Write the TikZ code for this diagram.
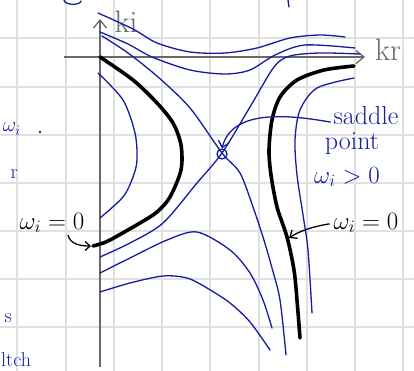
\documentclass[tikz,border=0pt]{standalone}
\usepackage{fontspec}
\usetikzlibrary{arrows.meta}
\definecolor{hblue}{RGB}{20,28,160}
\definecolor{axisgray}{RGB}{105,105,105}
\definecolor{gridgray}{RGB}{224,224,224}
\begin{document}
\begin{tikzpicture}[x=1pt,y=-1pt,
  bluecurve/.style={hblue,line width=1.3pt,line cap=round,line join=round},
  blackcurve/.style={black,line width=3.6pt,line cap=round,line join=round},
  axisline/.style={axisgray,line width=1.4pt},
  gridline/.style={gridgray,line width=1.6pt},
  lbl/.style={font=\fontsize{23}{23}\selectfont,inner sep=0pt},
  txtlbl/.style={font=\fontsize{26}{26}\selectfont,inner sep=0pt,text=hblue},
  axlbl/.style={font=\fontsize{31}{31}\selectfont,inner sep=0pt,text=axisgray},
  frag/.style={font=\fontsize{20}{20}\selectfont,inner sep=0pt,text=hblue},
  barb/.style={-{Straight Barb[length=8pt,width=13pt,line width=1.3pt]}},
]
\useasboundingbox (0,0) rectangle (414,371);
\clip (0,0) rectangle (414,371);
\fill[white] (0,0) rectangle (414,371);
% grid paper
\foreach \x in {17,66,114,162,210,259,307,355,403} \draw[gridline] (\x,0) -- (\x,371);
\foreach \y in {38,87,135,183,231,279,327} \draw[gridline] (0,\y) -- (414,\y);

% axes
\coordinate (ytop) at (100,19);
\coordinate (ybot) at (100,367);
\coordinate (xleft) at (64,57);
\coordinate (xright) at (365,57);
\draw[axisline,barb] (ybot) -- (ytop);
\draw[axisline,barb] (xleft) -- (xright);
\node[axlbl] (ki) at (126,22) {ki};
\node[axlbl] (kr) at (388,50) {kr};

% blue contours
\draw[bluecurve] plot[smooth] coordinates {(98,13) (133,29) (157,43) (190,52) (225,53) (257,48) (290,38) (320,35) (345,37)};
\draw[bluecurve] plot[smooth] coordinates {(100,32) (128,44) (152,57) (190,70) (225,74) (250,70) (275,55) (305,45) (355,48)};
\draw[bluecurve] plot[smooth] coordinates {(100,257) (130,243) (163,223) (197,183) (222,153) (250,107) (274,67) (290,56) (320,53) (360,54)};
\draw[bluecurve] plot[smooth] coordinates {(102,36) (128,53) (158,77) (190,108) (222,153) (240,173) (253,207) (263,237) (272,268) (280,300) (286,355)};
\draw[bluecurve] plot[smooth] coordinates {(100,273) (130,258) (167,240) (197,232) (230,250) (250,273) (263,300) (272,328)};
\draw[bluecurve] plot[smooth] coordinates {(100,292) (130,283) (163,276) (187,278) (207,288) (230,303) (250,322) (270,350)};
\draw[bluecurve] plot[smooth] coordinates {(98,73) (123,100) (135,133) (137,160) (133,177) (123,197) (100,218)};
\draw[bluecurve] plot[smooth] coordinates {(354,78) (317,88) (300,110) (295,140) (297,175) (303,215) (308,250) (312,313)};

% black omega_i = 0 curves
\draw[blackcurve] plot[smooth] coordinates {(100,57) (133,80) (157,103) (173,123) (181,145) (181,170) (170,197) (157,212) (140,223) (110,240) (100,244) (93,246)};
\draw[blackcurve] plot[smooth] coordinates {(354,66) (324,70) (297,80) (280,97) (272,120) (269,150) (271,175) (277,207) (287,237) (294,270) (297,300) (300,338)};

% saddle point
\node[circle,draw=hblue,line width=1.3pt,minimum size=10pt,inner sep=0pt] (saddle) at (222,154) {};
\node[txtlbl,anchor=base] (sad) at (366,125) {saddle};
\node[txtlbl,anchor=base] (pt) at (352,150) {point};
\node[lbl,text=hblue,anchor=base] (wpos) at (347,183) {$\omega_i>0$};
\draw[bluecurve,-{Straight Barb[length=6pt,width=11pt,line width=1.3pt]}]
  (sad.west) ++(-3,6) .. controls (285,114) and (232,110) .. (saddle.north);

% omega_i = 0 labels
\node[lbl,anchor=base] (wl) at (52,229) {$\omega_i=0$};
\coordinate (bL) at (91,246);
\draw[line width=1.3pt,-{Straight Barb[length=5pt,width=9pt,line width=1.3pt]}]
  (68,235) .. controls (70,244) and (80,246) .. (bL);
\node[lbl,anchor=base] (wr) at (366,229) {$\omega_i=0$};
\coordinate (bR) at (289,238);
\draw[line width=1.3pt,-{Straight Barb[length=6pt,width=10pt,line width=1.3pt]}]
  (wr.west) ++(-4,1) .. controls (310,227) and (298,232) .. (bR);

% fragments of neighbouring handwriting
\node[frag,anchor=east] (f1) at (21,129) {$\omega_i$};
\fill[hblue] (40,132) circle[radius=1.4pt];
\node[frag,anchor=east] (f2) at (18,174) {r};
\node[frag,anchor=east] (f3) at (12,318) {s};
\node[frag,anchor=base west] (f4) at (1,366) {ltch};
\draw[bluecurve] (64,0) .. controls (64,5) and (80,6) .. (81,1);
\draw[bluecurve] (288,0) -- (289,7);
\end{tikzpicture}
\end{document}
